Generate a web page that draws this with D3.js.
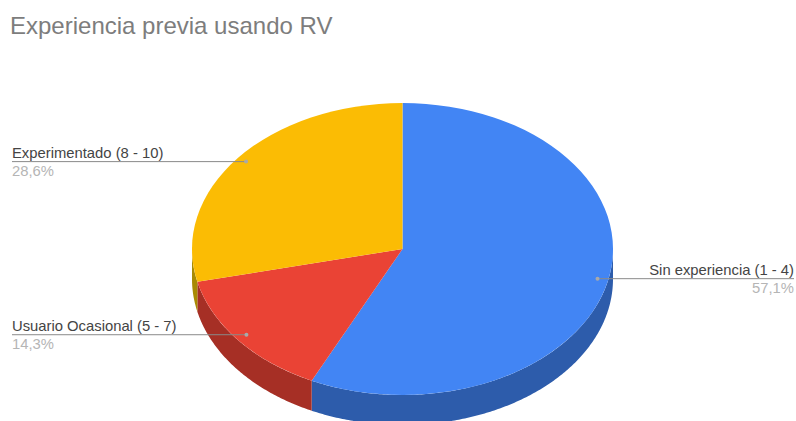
<!DOCTYPE html>
<html>
<head>
<meta charset="utf-8">
<script src="https://cdn.jsdelivr.net/npm/d3@7"></script>
<style>
  html, body { margin: 0; padding: 0; background: #fff; }
  svg { display: block; }
  text { font-family: "Liberation Sans", Arial, sans-serif; }
</style>
</head>
<body>
<svg></svg>
<script>
const categories = ["Sin experiencia (1 - 4)", "Usuario Ocasional (5 - 7)", "Experimentado (8 - 10)"];
const values = [57.1, 14.3, 28.6];
const valueLabels = ["57,1%", "14,3%", "28,6%"];
const topColors = ["#4285f4", "#ea4335", "#fbbc04"];
const sideColors = ["#2d5cab", "#a62f25", "#a88a03"];

const width = 796,
      height = 421,
      cx = 402.5,
      cy = 249,
      rx = 210.5,
      ry = 146,
      depth = 30;

const svg = d3.select("svg")
      .attr("width", width)
      .attr("height", height)
      .attr("viewBox", [0, 0, width, height]);

svg.append("text")
    .attr("x", 10)
    .attr("y", 34)
    .attr("fill", "#7d7d7d")
    .attr("font-size", 24)
    .text("Experiencia previa usando RV");

const slices = d3.pie().sort(null)(values);

// d3 angles: 0 is up, going clockwise
const ex = (a, k = 1) => cx + rx * k * Math.sin(a);
const ey = (a, k = 1) => cy - ry * k * Math.cos(a);

const sideLine = d3.line();

// side wall, only the part of the rim that faces down
slices.forEach((s, i) => {
    const a0 = Math.max(s.startAngle, Math.PI / 2);
    const a1 = Math.min(s.endAngle, Math.PI * 1.5);
    if (a1 <= a0) return;
    const angles = d3.range(a0, a1, 0.01).concat([a1]);
    const rim = angles.map(a => [ex(a), ey(a)]);
    const lower = angles.map(a => [ex(a), ey(a) + depth]).reverse();
    svg.append("path")
        .attr("fill", sideColors[i])
        .attr("d", sideLine(rim.concat(lower)) + "Z");
});

const arc = d3.arc().innerRadius(0).outerRadius(rx);

svg.append("g")
    .attr("transform", `translate(${cx},${cy}) scale(1,${ry / rx})`)
  .selectAll("path")
  .data(slices)
  .join("path")
    .attr("fill", (d, i) => topColors[i])
    .attr("d", arc);

// leader lines start at 95% of the radius, at the middle of each slice
slices.forEach((s, i) => {
    const mid = (s.startAngle + s.endAngle) / 2;
    const px = ex(mid, 0.95);
    const py = ey(mid, 0.95) - 1;
    const right = px > cx;
    const endX = right ? 794 : 12;

    svg.append("line")
        .attr("x1", px).attr("y1", py)
        .attr("x2", endX).attr("y2", py)
        .attr("stroke", "#8a8a8a")
        .attr("stroke-width", 1);

    svg.append("circle")
        .attr("cx", px).attr("cy", py).attr("r", 2)
        .attr("fill", "#a9a9a9");

    svg.append("text")
        .attr("x", endX)
        .attr("y", py - 4)
        .attr("text-anchor", right ? "end" : "start")
        .attr("fill", "#444")
        .attr("font-size", 14.8)
        .text(categories[i]);

    svg.append("text")
        .attr("x", endX)
        .attr("y", py + 14)
        .attr("text-anchor", right ? "end" : "start")
        .attr("fill", "#b5b5b5")
        .attr("font-size", 14.8)
        .text(valueLabels[i]);
});
</script>
</body>
</html>
